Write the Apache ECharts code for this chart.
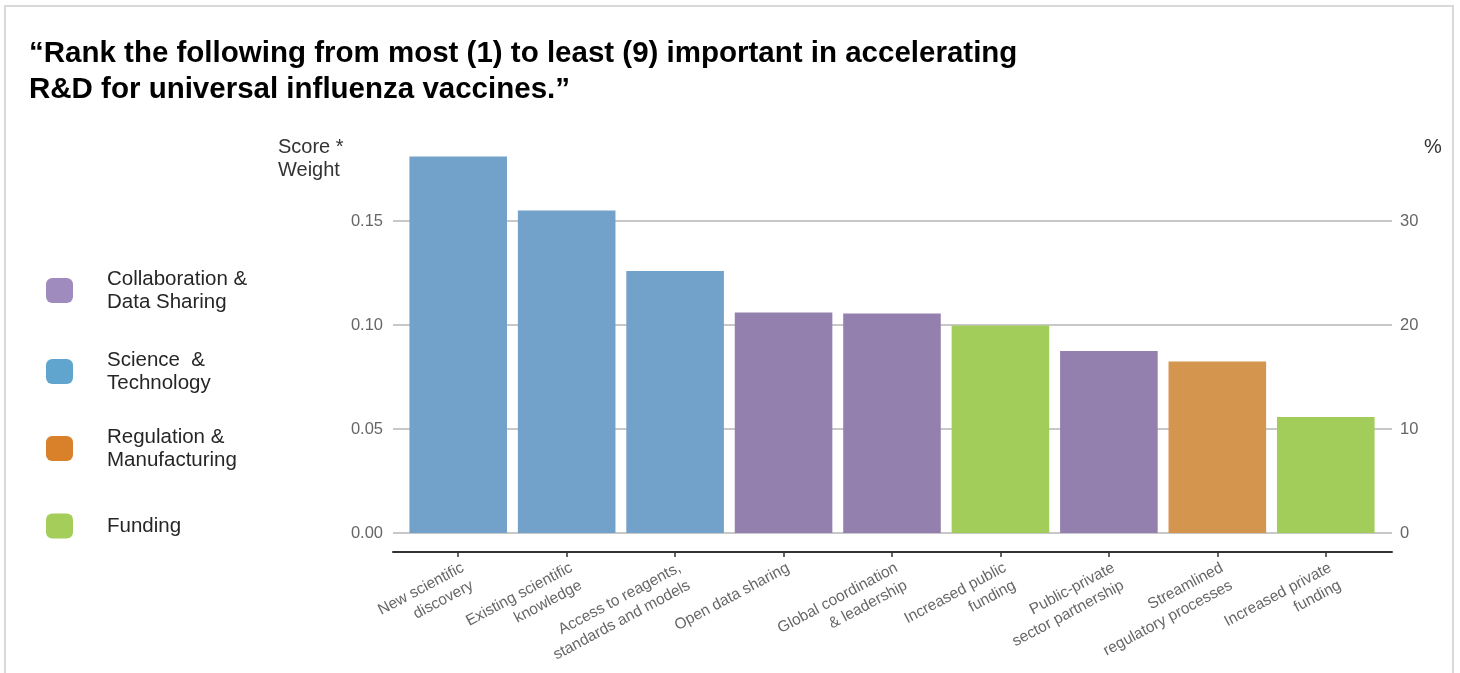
<!DOCTYPE html>
<html>
<head>
<meta charset="utf-8">
<script src="https://cdn.jsdelivr.net/npm/echarts@6/dist/echarts.min.js"></script>
<style>
html,body{margin:0;padding:0;background:#fff;}
#frame{position:absolute;left:4px;top:5px;width:1450px;height:720px;border:2px solid #d9d9d9;box-sizing:border-box;}
#chart{position:absolute;left:0;top:0;width:1460px;height:673px;}
</style>
</head>
<body>
<div id="frame"></div>
<div id="chart"></div>
<script>
// ---- data ----
const categories = [
  'New scientific\ndiscovery',
  'Existing scientific\nknowledge',
  'Access to reagents,\nstandards and models',
  'Open data sharing',
  'Global coordination\n& leadership',
  'Increased public\nfunding',
  'Public-private\nsector partnership',
  'Streamlined\nregulatory processes',
  'Increased private\nfunding'
];
const values = [0.181, 0.155, 0.126, 0.106, 0.1055, 0.0998, 0.0875, 0.0825, 0.0558];
const groupOf = ['sci', 'sci', 'sci', 'collab', 'collab', 'fund', 'collab', 'reg', 'fund'];
const groupKeys = ['collab', 'sci', 'reg', 'fund'];
const groupNames = ['Collaboration &\nData Sharing', 'Science  &\nTechnology', 'Regulation &\nManufacturing', 'Funding'];
const barColors = ['#9480ae', '#72a2c9', '#d4964f', '#a3cd5a'];
const legendColors = ['#a08bbf', '#5fa5cd', '#d8812a', '#a4cd5a'];
const leftTicks = [0, 0.05, 0.10, 0.15];
const rightTicks = [0, 10, 20, 30];

// ---- chart ----
const chart = echarts.init(document.getElementById('chart'), null, {renderer: 'canvas'});
const FONT = 'Liberation Sans, Arial, sans-serif';

const series = groupKeys.map((k, gi) => ({
  name: groupNames[gi],
  type: 'bar',
  xAxisIndex: 1,
  yAxisIndex: 2,
  stack: 'all',
  barCategoryGap: '10%',
  itemStyle: {color: barColors[gi]},
  data: values.map((v, i) => groupOf[i] === k ? v : '-')
}));

const legendTops = [266, 347, 424, 513];
const legends = groupNames.map((n, gi) => ({
  left: 46,
  top: legendTops[gi],
  orient: 'vertical',
  padding: 0,
  icon: 'roundRect',
  itemWidth: 27,
  itemHeight: 25,
  selectedMode: false,
  data: [{name: n, itemStyle: {color: legendColors[gi]}}],
  textStyle: {fontFamily: FONT, fontSize: 20.5, color: '#262626', lineHeight: 23, padding: [3, 0, 0, 29]}
}));

chart.setOption({
  animation: false,
  title: [
    {
      text: '\u201cRank the following from most (1) to least (9) important in accelerating\nR&D for universal influenza vaccines.\u201d',
      left: 29, top: 36, padding: 0,
      textStyle: {fontFamily: FONT, fontSize: 29.5, fontWeight: 'bold', color: '#000', lineHeight: 36}
    },
    {
      text: 'Score *\nWeight',
      left: 278, top: 136, padding: 0,
      textStyle: {fontFamily: FONT, fontSize: 20, fontWeight: 'normal', color: '#333', lineHeight: 23}
    },
    {
      text: '%',
      left: 1424, top: 136, padding: 0,
      textStyle: {fontFamily: FONT, fontSize: 20, fontWeight: 'normal', color: '#333', lineHeight: 23}
    }
  ],
  legend: legends,
  grid: [
    {left: 393, right: 68, top: 117, bottom: 140},
    {left: 404, right: 80, top: 117, bottom: 140}
  ],
  xAxis: [
    {
      type: 'value', gridIndex: 0, position: 'bottom', min: 0, max: 1, offset: 19,
      axisLine: {show: true, onZero: false, lineStyle: {color: '#333', width: 2}},
      axisTick: {show: false}, axisLabel: {show: false}, splitLine: {show: false}
    },
    {
      type: 'category', gridIndex: 1, position: 'bottom', data: categories, offset: 19,
      axisLine: {show: false, onZero: false},
      axisTick: {show: true, alignWithLabel: true, length: 5, lineStyle: {color: '#333', width: 1.5}},
      axisLabel: {interval: 0, rotate: 28, margin: 6, align: 'right', verticalAlign: 'top',
        fontFamily: FONT, fontSize: 15.5, color: '#666', lineHeight: 20}
    }
  ],
  yAxis: [
    {
      type: 'value', gridIndex: 0, position: 'left', min: 0, max: 0.2, interval: 0.05,
      axisLine: {show: false}, axisTick: {show: false},
      axisLabel: {margin: 10, showMaxLabel: false, fontFamily: FONT, fontSize: 16.5, color: '#666',
        formatter: v => v.toFixed(2)},
      splitLine: {show: true, showMaxLine: false, lineStyle: {color: '#c8c8c8', width: 2}}
    },
    {
      type: 'value', gridIndex: 0, position: 'right', min: 0, max: 40, interval: 10,
      axisLine: {show: false}, axisTick: {show: false},
      axisLabel: {margin: 8, showMaxLabel: false, fontFamily: FONT, fontSize: 16.5, color: '#666'},
      splitLine: {show: false}
    },
    {
      type: 'value', gridIndex: 1, min: 0, max: 0.2, show: false
    }
  ],
  series: series
});
</script>
</body>
</html>
